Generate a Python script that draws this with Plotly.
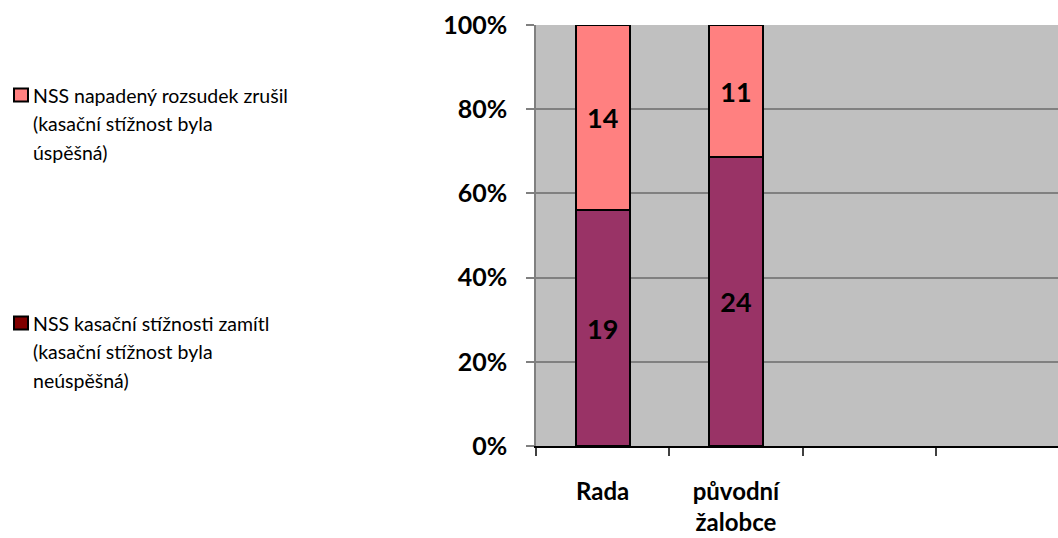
import plotly.graph_objects as go

# ---- data ----
categories = ["Rada", "původní<br>žalobce", " ", "  "]
zamitl_count = [19, 24, None, None]       # NSS kasační stížnosti zamítl (labels)
zrusil_count = [14, 11, None, None]       # NSS napadený rozsudek zrušil (labels)
zamitl_share = [56.0, 68.6, None, None]   # bar heights (%)
zrusil_share = [44.0, 31.4, None, None]
y_ticks = [0, 20, 40, 60, 80, 100]
y_ticktext = ["0%", "20%", "40%", "60%", "80%", "100%"]
legend_1 = ["NSS napadený rozsudek zrušil", "(kasační stížnost byla", "úspěšná)"]
legend_2 = ["NSS kasační stížnosti zamítl", "(kasační stížnost byla", "neúspěšná)"]

FONT = "Lato"
W, H = 1058, 538
L, T, R = 536, 25, 0
PH = 421
B = H - T - PH
PW = W - L - R
SLOT = 133.3

def px_x(px):
    return (px - L) / PW

def px_y(py):
    return (T + PH - py) / PH

def lbl(vals):
    return ["" if v is None else str(v) for v in vals]

fig = go.Figure()
fig.add_trace(go.Bar(
    x=categories, y=zamitl_share, name="NSS kasační stížnosti zamítl",
    marker=dict(color="#993366", line=dict(color="#000000", width=2)),
    text=lbl(zamitl_count), textposition="inside", insidetextanchor="middle",
    textfont=dict(family=FONT, size=27, color="#000000", weight="bold"),
    textangle=0, showlegend=False, hoverinfo="skip",
))
fig.add_trace(go.Bar(
    x=categories, y=zrusil_share, name="NSS napadený rozsudek zrušil",
    marker=dict(color="#FF8080", line=dict(color="#000000", width=2)),
    text=lbl(zrusil_count), textposition="inside", insidetextanchor="middle",
    textfont=dict(family=FONT, size=27, color="#000000", weight="bold"),
    textangle=0, showlegend=False, hoverinfo="skip",
))

fig.update_layout(
    width=W, height=H,
    margin=dict(l=L, r=R, t=T, b=B, pad=0, autoexpand=False),
    barmode="stack", bargap=0.595,
    paper_bgcolor="#FFFFFF", plot_bgcolor="#C0C0C0",
    font=dict(family=FONT, color="#000000"),
)
fig.update_xaxes(
    type="category", categoryorder="array", categoryarray=categories,
    range=[-0.5, -0.5 + PW / SLOT], automargin=False,
    tickson="boundaries", ticks="outside", ticklen=8, tickcolor="#404040", tickwidth=1.5,
    showline=True, linecolor="#000000", linewidth=1.5,
    showgrid=False,
    tickfont=dict(family=FONT, size=24, color="#000000", weight="bold"),
    ticklabelstandoff=23,
)
fig.update_yaxes(
    range=[0, 100], tickvals=y_ticks, ticktext=y_ticktext, automargin=False,
    ticks="outside", ticklen=8, tickcolor="#808080", tickwidth=1.5,
    showline=True, linecolor="#808080", linewidth=1.5,
    showgrid=True, gridcolor="#808080", gridwidth=1.5,
    zeroline=False,
    tickfont=dict(family=FONT, size=25, color="#000000", weight="bold"),
    ticklabelstandoff=14,
)

# ---- legend drawn manually (left side) ----
def add_legend(lines, color, yc):
    fig.add_shape(type="rect", xref="paper", yref="paper",
                  x0=px_x(14), x1=px_x(28), y0=px_y(yc + 6.5), y1=px_y(yc - 6.5),
                  fillcolor=color, line=dict(color="#000000", width=2))
    for i, t in enumerate(lines):
        fig.add_annotation(text=t, xref="paper", yref="paper",
                           x=px_x(31), y=px_y(yc + i * 28.7),
                           xanchor="left", yanchor="middle", showarrow=False,
                           font=dict(family=FONT, size=19.5, color="#000000"))

add_legend(legend_1, "#FF8080", 95)
add_legend(legend_2, "#800000", 323)

fig.write_html(
    "out.html",
    config={"displayModeBar": False},
    post_script="document.body.style.margin='0';document.body.style.overflow='hidden';",
)
